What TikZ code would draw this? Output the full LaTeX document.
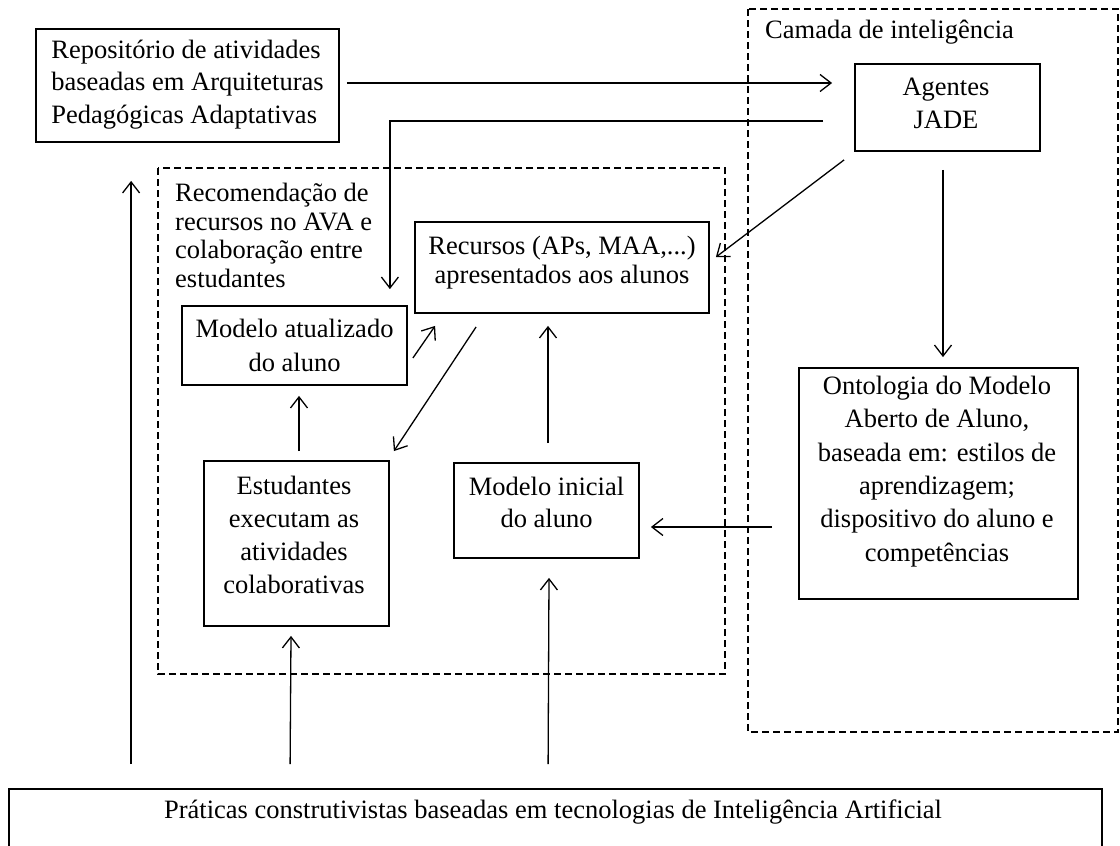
\documentclass[tikz,border=0pt]{standalone}
\usepackage{fontspec}
\setmainfont{Liberation Serif}
\usetikzlibrary{arrows.meta,calc}
\begin{document}
\begin{tikzpicture}[x=1pt,y=-1pt,
  every node/.style={font=\fontsize{26.5}{32.5}\selectfont},
  box/.style={draw,line width=1.8pt,inner sep=0pt},
  txt/.style={inner sep=0pt,align=center},
  arr/.style={line width=1.3pt,-{Straight Barb[length=11pt,width=17pt]}},
  region/.style={draw,line width=1.3pt,dash pattern=on 7pt off 4pt}]
\useasboundingbox (0,0) rectangle (1120,846);
\fill[white] (0,0) rectangle (1120,846);
% dashed regions
\draw[region] (158,168) rectangle (725,674);
\draw[region] (748,9) rectangle (1118,732);
% labels
\node[anchor=west,inner sep=0pt] (camlab) at (765,32) {Camada de inteligência};
\node[anchor=west,inner sep=0pt,align=left,font=\fontsize{26.5}{28.5}\selectfont] (reclab) at (175,235.5)
  {Recomendação de\\recursos no AVA e\\colaboração entre\\estudantes};
% boxes
\node[box,minimum width=303pt,minimum height=113pt] (repo) at (187.5,85.5) {};
\node[txt,align=left] (repo-t) at (187.5,84.5)
  {Repositório de atividades\\baseadas em Arquiteturas\\Pedagógicas Adaptativas};
\node[box,minimum width=185pt,minimum height=87pt] (agentes) at (947.5,107.5) {};
\node[txt,font=\fontsize{26.5}{33}\selectfont] (agentes-t) at (946,103.5) {Agentes\\JADE};
\node[box,minimum width=294pt,minimum height=91pt] (recursos) at (562,267.5) {};
\node[txt,font=\fontsize{26.5}{29}\selectfont] (recursos-t) at (562,262.5)
  {Recursos (APs, MAA,...)\\apresentados aos alunos};
\node[box,minimum width=225pt,minimum height=79pt] (matual) at (294.5,345.5) {};
\node[txt,font=\fontsize{26.5}{34}\selectfont] (matual-t) at (294.5,345)
  {Modelo atualizado\\do aluno};
\node[box,minimum width=185pt,minimum height=165pt] (estud) at (296.5,543.5) {};
\node[txt,font=\fontsize{26.5}{33}\selectfont] (estud-t) at (294,534.5)
  {Estudantes\\executam as\\atividades\\colaborativas};
\node[box,minimum width=185pt,minimum height=95pt] (minicial) at (546.5,510.5) {};
\node[txt,font=\fontsize{26.5}{32}\selectfont] (minicial-t) at (546.5,502)
  {Modelo inicial\\do aluno};
\node[box,minimum width=279pt,minimum height=231pt] (onto) at (938.5,483.5) {};
\node[txt,font=\fontsize{26.5}{33.4}\selectfont] (onto-t) at (937,471.5)
  {Ontologia do Modelo\\Aberto de Aluno,\\baseada em: estilos de\\aprendizagem;\\dispositivo do aluno e\\competências};
\node[box,minimum width=1093pt,minimum height=64pt] (prac) at (555.5,821) {};
\node[txt] (prac-t) at (553,812)
  {Práticas construtivistas baseadas em tecnologias de Inteligência Artificial};
% connectors
\coordinate (a1) at ($(repo.east)+(7,-2.5)$);
\coordinate (a2) at ($(agentes.west)+(-22,-24.5)$);
\draw[arr] (a1) -- (a2);
\coordinate (b1) at ($(agentes.west)+(-31,13.5)$);
\coordinate (b2) at ($(matual.north east)+(-18,-16)$);
\draw[arr] (b1) -| (b2);
\coordinate (c1) at ($(agentes.south west)+(-10,8)$);
\coordinate (c2) at ($(recursos.north east)+(6,36)$);
\draw[arr] (c1) -- (c2);
\coordinate (d1) at ($(agentes.south)+(-4.5,18)$);
\coordinate (d2) at ($(onto.north)+(4.5,-10)$);
\draw[arr] (d1) -- (d2);
\coordinate (e1) at ($(matual.east)+(5,12.5)$);
\coordinate (e2) at ($(recursos.south west)+(21,12)$);
\draw[arr] (e1) -- (e2);
\coordinate (f1) at ($(recursos.south west)+(62,13)$);
\coordinate (f2) at ($(estud.north east)+(4,-9)$);
\draw[arr] (f1) -- (f2);
\coordinate (g1) at ($(minicial.north)+(1.5,-19)$);
\coordinate (g2) at ($(recursos.south)+(-14,12)$);
\draw[arr] (g1) -- (g2);
\coordinate (h1) at ($(estud.north)+(2.5,-9)$);
\coordinate (h2) at ($(matual.south)+(4.5,10)$);
\draw[arr] (h1) -- (h2);
\coordinate (i1) at ($(onto.west)+(-26,43.5)$);
\coordinate (i2) at ($(minicial.east)+(11,16.5)$);
\draw[arr] (i1) -- (i2);
\coordinate (j1) at ($(prac.north west)+(123,-24)$);
\coordinate (j2) at ($(repo.south west)+(96,38)$);
\draw[arr] (j1) -- (j2);
\coordinate (k1) at ($(prac.north west)+(282,-24)$);
\coordinate (k2) at ($(estud.south)+(-5.5,9)$);
\draw[arr] (k1) -- (k2);
\coordinate (l1) at ($(prac.north west)+(540,-24)$);
\coordinate (l2) at ($(minicial.south)+(2.5,19)$);
\draw[arr] (l1) -- (l2);
\end{tikzpicture}
\end{document}
